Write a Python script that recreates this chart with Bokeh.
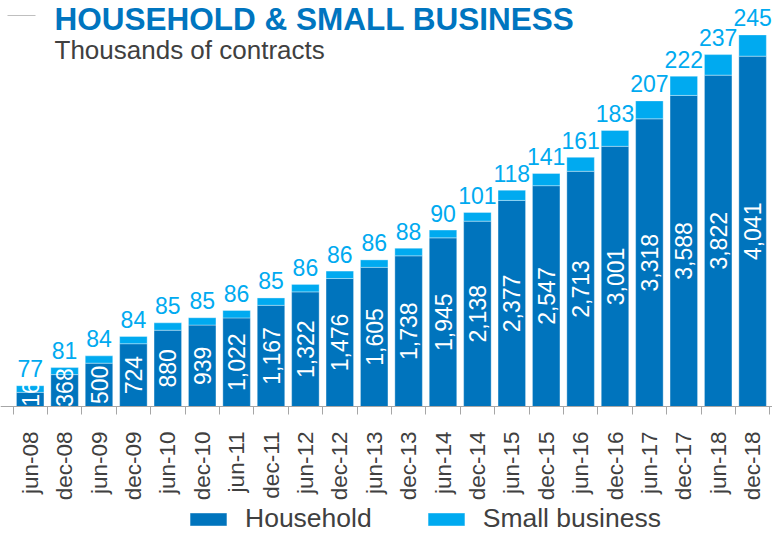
import math
from bokeh.plotting import figure
from bokeh.models import (ColumnDataSource, Range1d, LinearAxis, FixedTicker, Label,
                          Legend, LegendItem, BoxAnnotation)
from bokeh.core.properties import value
from bokeh.embed import file_html
from bokeh.resources import INLINE

# ---- data ----
periods = ["jun-08", "dec-08", "jun-09", "dec-09", "jun-10", "dec-10", "jun-11", "dec-11",
           "jun-12", "dec-12", "jun-13", "dec-13", "jun-14", "dec-14", "jun-15", "dec-15",
           "jun-16", "dec-16", "jun-17", "dec-17", "jun-18", "dec-18"]
household = [163, 368, 500, 724, 880, 939, 1022, 1167, 1322, 1476, 1605, 1738, 1945, 2138,
             2377, 2547, 2713, 3001, 3318, 3588, 3822, 4041]
small_business = [77, 81, 84, 84, 85, 85, 86, 85, 86, 86, 86, 88, 90, 101, 118, 141, 161,
                  183, 207, 222, 237, 245]
series_names = ["Household", "Small business"]
title_text = "HOUSEHOLD & SMALL BUSINESS"
subtitle_text = "Thousands of contracts"

# ---- style ----
DARK = "#0074BD"
LIGHT = "#00AAF0"
TITLE_C = "#0075BF"
GREY_TXT = "#404040"
AXIS_C = "#A6A6A6"
FONT = "Liberation Sans"

W, H = 772, 535
n = len(periods)
xs = [i + 0.5 for i in range(n)]
total = [h + s for h, s in zip(household, small_business)]

PX_PER_UNIT = 0.0867
AXIS_Y = 406          # pixel row of the baseline, from the top
CAT_W = 34.4
B0 = 12.5
min_center = 19 / PX_PER_UNIT

src = ColumnDataSource(dict(
    x=xs, household=household, small=small_business, total=total,
    hh_label=[f"{v:,}" for v in household],
    sb_label=[str(v) for v in small_business],
    hh_y=[max(v / 2, min_center) for v in household],
))

p = figure(width=W, height=H, output_backend="svg", toolbar_location=None,
           x_range=Range1d(-B0 / CAT_W, (W - B0) / CAT_W),
           y_range=Range1d(-(H - AXIS_Y) / PX_PER_UNIT, AXIS_Y / PX_PER_UNIT),
           x_axis_type=None, y_axis_type=None,
           min_border_left=0, min_border_right=0, min_border_top=0, min_border_bottom=0)
p.outline_line_color = None
p.background_fill_color = "white"

rs = p.vbar_stack(["household", "small"], x="x", width=0.8, source=src,
                  color=[DARK, LIGHT], line_color="white", line_alpha=0.35, line_width=1)

p.text(x="x", y="hh_y", text="hh_label", source=src, angle=math.pi / 2,
       text_align="center", text_baseline="middle", text_color="white",
       text_font=value(FONT), text_font_size="23px")
p.text(x="x", y="total", text="sb_label", source=src, text_align="center",
       text_baseline="alphabetic", y_offset=-17, text_color=LIGHT,
       text_font=value(FONT), text_font_size="23px")

ax = LinearAxis(ticker=FixedTicker(ticks=xs, minor_ticks=list(range(n + 1))),
                major_label_overrides={x: lab for x, lab in zip(xs, periods)},
                fixed_location=0)
ax.major_tick_out = 0
ax.major_tick_in = 0
ax.minor_tick_out = 8
ax.minor_tick_in = 0
ax.minor_tick_line_color = AXIS_C
ax.axis_line_color = AXIS_C
ax.major_label_orientation = math.pi / 2
ax.major_label_standoff = 17
ax.major_label_text_font = FONT
ax.major_label_text_font_size = "22.5px"
ax.major_label_text_color = GREY_TXT
p.add_layout(ax, "below")

legend = Legend(items=[LegendItem(label=series_names[0], renderers=[rs[0]]),
                       LegendItem(label=series_names[1], renderers=[rs[1]])],
                location=(185, 1), orientation="horizontal",
                glyph_width=46, glyph_height=16, label_standoff=14, spacing=51,
                padding=0, margin=0, border_line_color=None, background_fill_alpha=0,
                label_text_font=FONT, label_text_font_size="26.5px",
                label_text_color=GREY_TXT, label_height=16)
p.add_layout(legend)

p.add_layout(Label(x=54, y=H - 18, x_units="screen", y_units="screen", text=title_text,
                   text_font=FONT, text_font_size="31.5px", text_font_style="bold",
                   text_color=TITLE_C, text_baseline="alphabetic"))
p.add_layout(Label(x=54, y=H - 49, x_units="screen", y_units="screen", text=subtitle_text,
                   text_font=FONT, text_font_size="26px", text_color=GREY_TXT,
                   text_baseline="alphabetic"))
p.add_layout(BoxAnnotation(left=7, right=35, bottom=H - 15.5, top=H - 14.5,
                           left_units="screen", right_units="screen",
                           bottom_units="screen", top_units="screen",
                           fill_color="#BFBFBF", fill_alpha=1, line_color=None))

open("out.html", "w").write(file_html(p, INLINE))
